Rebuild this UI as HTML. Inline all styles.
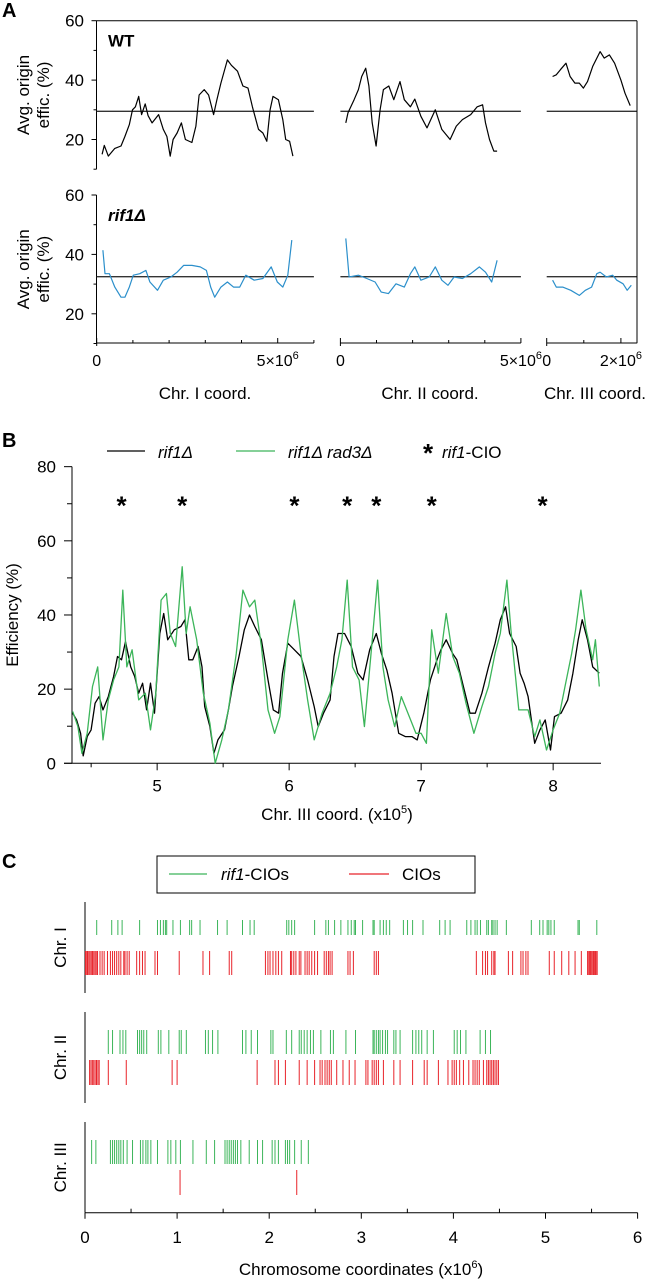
<!DOCTYPE html>
<html><head><meta charset="utf-8"><style>
html,body{margin:0;padding:0;background:#fff;}
svg{display:block;font-family:"Liberation Sans",sans-serif;}
</style></head><body>
<svg id="fig" width="653" height="1280" viewBox="0 0 653 1280" xmlns="http://www.w3.org/2000/svg">
<g id="A"></g>
<g id="B"></g>
<g id="C"></g>
</svg>
<script>
// ---------- Panel A data (x in Mb, y in %) ----------
const wt1X=[.15,.21,.32,.5,.67,.78,.9,.99,1.07,1.16,1.24,1.34,1.42,1.53,1.71,1.84,1.94,2.03,2.11,2.22,2.34,2.45,2.63,2.74,2.83,2.97,3.09,3.23,3.32,3.43,3.61,3.72,3.89,4.04,4.18,4.3,4.47,4.59,4.7,4.79,4.87,5.02,5.14,5.22,5.33,5.42];
const wt1Y=[15,18,14.4,17,17.8,21,25,30,31,34.5,28.4,32,28,25.6,28.4,23.4,21,14.4,20,22.2,25.6,20,19,24.5,35,36.8,35,28.4,33.4,39,46.8,45,43,38,37.3,31,23.4,22.2,19.4,30,34.5,33.4,26.7,20,19.4,14.4];
const wt2X=[.15,.21,.38,.5,.59,.7,.79,.88,.99,1.1,1.19,1.34,1.48,1.65,1.77,1.94,2.06,2.23,2.4,2.63,2.81,3.04,3.21,3.38,3.61,3.79,3.94,4.02,4.13,4.25,4.34];
const wt2Y=[25.6,29,33.4,36.8,41.2,44,38,25.6,17.8,30,36.8,38,33.4,39.5,33.4,31,33.6,27.8,23.9,30,23.4,20,24.5,26.7,28.4,31,31.7,25.6,20,16.1,16.1];
const wt3X=[.16,.26,.37,.52,.63,.76,.88,.99,1.1,1.24,1.44,1.55,1.69,1.83,2.0,2.11,2.25];
const wt3Y=[41.2,41.8,43.5,45.7,41.2,39,39,37.3,39.5,44.6,49.6,47.4,48.5,45.7,40,35.6,31.4];
const rf1X=[.17,.23,.35,.5,.67,.78,.9,1.01,1.19,1.36,1.47,1.68,1.84,2.05,2.22,2.4,2.63,2.86,3.03,3.15,3.26,3.43,3.61,3.78,3.95,4.12,4.35,4.59,4.82,4.99,5.14,5.28,5.39];
const rf1Y=[41.4,33.5,33.5,29,25.6,25.6,29,33,33.5,34.6,30.7,27.9,31.3,32.4,34,36.3,36.3,35.8,34.6,29,25.6,29,30.7,29,29,33,31.3,31.9,35.8,30.7,29,33,44.8];
const rf2X=[.15,.24,.5,.73,.96,1.13,1.33,1.54,1.77,1.94,2.06,2.23,2.46,2.63,2.81,2.98,3.15,3.38,3.61,3.85,4.02,4.19,4.34];
const rf2Y=[45.4,32.4,33,31.9,30.7,27.3,26.8,30.1,29,33.5,35.8,31.3,32.4,35.8,31.3,29.6,32.4,31.9,33.5,35.8,34,30.7,38];
const rf3X=[.16,.26,.43,.65,.88,1.04,1.21,1.35,1.44,1.61,1.78,1.89,2.06,2.17,2.28];
const rf3Y=[31.3,29,29,27.9,26.2,27.9,29,33.5,34,32.4,33,31.3,30.1,27.9,29.6];
const wtMean=[29.5], rifMean=[32.5];
const aYTicks=[20,40,60];

// ---------- Panel B data (x in 1e5, y in %) ----------
const bBlackX=[4.36,4.39,4.42,4.44,4.47,4.50,4.53,4.56,4.59,4.63,4.67,4.70,4.73,4.76,4.80,4.83,4.86,4.89,4.92,4.95,4.98,5.02,5.05,5.08,5.13,5.18,5.21,5.24,5.27,5.31,5.34,5.36,5.40,5.43,5.46,5.51,5.54,5.57,5.62,5.66,5.70,5.74,5.79,5.84,5.88,5.92,5.95,5.99,6.04,6.09,6.14,6.19,6.22,6.26,6.31,6.34,6.37,6.42,6.47,6.52,6.56,6.61,6.66,6.70,6.74,6.78,6.83,6.88,6.93,6.97,7.02,7.07,7.12,7.15,7.19,7.24,7.27,7.32,7.37,7.41,7.46,7.51,7.56,7.60,7.64,7.67,7.72,7.75,7.78,7.81,7.86,7.90,7.94,7.98,8.01,8.06,8.11,8.15,8.19,8.22,8.26,8.30,8.35];
const bBlackY=[13.5,11.7,8.1,2,7.2,9,16.2,18,14.4,18,23.4,28.8,27.9,32.8,26,23.4,18.9,21.6,14.4,21.6,13.5,35,40.4,33.3,36,36.9,38.7,27.9,27.9,31.5,26,15.3,9.9,2.7,6.3,9,14.4,20.7,28.8,36,40,36.9,33.3,22.5,14.4,13.5,24.3,32.4,30.6,28.8,22.5,15.3,9.9,13.5,17.1,28.8,35,35,31.5,24.3,22.5,30.6,35,29.5,25.2,18.9,8.1,7.2,7.2,6.3,13.5,22.5,27.9,30.6,33.3,29.5,27.9,20.7,13.5,13.5,18.9,26,32.4,38.7,42.2,35,31.5,24.3,21.6,18,5.4,9,11.7,3.6,12.6,13.5,17.1,24.3,33.3,38.7,33.3,26,24.3];
const bGreenX=[4.36,4.40,4.43,4.47,4.51,4.55,4.59,4.63,4.67,4.71,4.74,4.77,4.81,4.86,4.91,4.95,4.99,5.03,5.07,5.10,5.14,5.19,5.22,5.25,5.30,5.35,5.40,5.44,5.49,5.54,5.60,5.65,5.70,5.74,5.79,5.84,5.89,5.93,5.99,6.04,6.09,6.14,6.19,6.25,6.31,6.36,6.40,6.44,6.48,6.53,6.57,6.62,6.67,6.71,6.75,6.80,6.85,6.91,6.96,7.00,7.04,7.08,7.13,7.19,7.24,7.29,7.34,7.40,7.46,7.51,7.56,7.60,7.65,7.68,7.74,7.81,7.86,7.90,7.95,8.00,8.05,8.09,8.14,8.17,8.21,8.25,8.30,8.32,8.35];
const bGreenY=[14,9.9,2.7,8.1,20.7,26,6.3,17.1,22.5,26,46.7,26,30.6,17.1,18.9,9,18.9,44,45.8,35,31.5,53,35,42.2,33.3,18.9,10.8,0,6.3,14.4,29.7,46.7,42.2,44,31.5,14.4,8.1,12.6,33.3,44,29.5,17.1,6.3,13.5,18.9,26,33.3,49.4,26,22.5,9.9,29.5,49.4,26,17.1,9.9,18,12.6,8.1,8.1,5.4,36,24.3,40.4,28.8,24.3,16.2,8.1,15.3,20.7,29.7,35,49.4,36,14.4,14.4,7.2,11.7,3.6,9,13.5,20.7,29.5,36,46.7,36,27.9,33.3,20.7];
const cioX=[4.73,5.19,6.04,6.44,6.66,7.08,7.92];
const bYTicks=[0,20,40,60,80];
const bXTicks=[5,6,7,8];

// ---------- Panel C data (x in Mb) ----------
const c1G=[.127,.29,.357,.403,.593,.787,.819,.851,.873,.887,.955,1.036,1.136,1.158,1.249,1.439,1.543,1.71,1.792,1.837,2.19,2.213,2.244,2.276,2.493,2.615,2.643,2.71,2.778,2.855,2.891,2.923,2.937,3.014,3.127,3.14,3.204,3.24,3.271,3.308,3.457,3.502,3.557,3.67,3.851,3.91,3.964,4.145,4.19,4.235,4.258,4.294,4.362,4.38,4.416,4.43,4.452,4.475,4.575,4.846,4.937,4.973,5.018,5.036,5.059,5.095,5.353,5.367,5.557];
const c1R=[.005,.014,.027,.041,.054,.068,.081,.095,.109,.122,.136,.163,.186,.208,.244,.276,.299,.321,.344,.367,.389,.421,.434,.457,.48,.561,.593,.624,.652,.76,.787,1.023,1.281,1.353,1.566,1.593,1.959,1.986,2.009,2.041,2.072,2.1,2.136,2.231,2.244,2.267,2.29,2.326,2.344,2.389,2.412,2.434,2.462,2.493,2.525,2.597,2.62,2.643,2.661,2.683,2.855,2.878,2.914,3.14,3.163,3.186,4.249,4.317,4.348,4.371,4.416,4.439,4.452,4.597,4.643,4.733,4.756,4.787,4.81,5.041,5.095,5.176,5.253,5.321,5.389,5.457,5.47,5.48,5.49,5.502,5.515,5.525,5.537,5.548,5.561];
const c2G=[.253,.299,.38,.412,.443,.57,.593,.615,.638,.67,.796,.824,.91,1.023,1.045,1.1,1.308,1.339,1.385,1.443,1.71,1.747,1.805,1.873,2.018,2.041,2.186,2.244,2.326,2.348,2.38,2.412,2.448,2.48,2.561,2.665,2.697,2.833,2.937,3.127,3.14,3.163,3.186,3.204,3.231,3.262,3.285,3.353,3.376,3.421,3.557,3.593,3.624,3.656,3.715,3.783,4.009,4.041,4.077,4.136,4.29,4.348,4.403];
const c2R=[.05,.065,.08,.095,.11,.125,.14,.154,.253,.448,.946,1.0,1.869,2.063,2.1,2.176,2.326,2.412,2.493,2.552,2.575,2.606,2.629,2.652,2.674,2.733,2.801,2.869,2.932,3.05,3.072,3.118,3.14,3.163,3.186,3.24,3.353,3.421,3.557,3.683,3.715,3.837,3.941,3.986,4.009,4.032,4.068,4.109,4.167,4.213,4.235,4.258,4.281,4.326,4.362,4.38,4.398,4.416,4.434,4.452,4.471,4.489];
const c3G=[.072,.118,.276,.299,.321,.344,.367,.389,.416,.457,.516,.602,.629,.661,.683,.715,.787,.9,.932,.986,1.036,1.172,1.317,1.407,1.52,1.543,1.566,1.588,1.611,1.633,1.656,1.692,1.783,1.873,1.928,2.032,2.063,2.1,2.176,2.199,2.222,2.276,2.348,2.425];
const c3R=[1.032,2.299];
const cXTicks=[0,1,2,3,4,5,6];
const chrNames=["Chr. I","Chr. II","Chr. III"];

const NS="http://www.w3.org/2000/svg";
function mk(parent,tag,attrs,text){const e=document.createElementNS(NS,tag);for(const k in attrs)e.setAttribute(k,attrs[k]);if(text!==undefined)e.textContent=text;parent.appendChild(e);return e;}
function poly(parent,xs,ys,fx,fy,color,w,name){
  let d='';for(let i=0;i<xs.length;i++){d+=(i?'L':'M')+fx(xs[i]).toFixed(1)+' '+fy(ys[i]).toFixed(1);}
  const p=mk(parent,'path',{d:d,fill:'none',stroke:color,'stroke-width':w,'stroke-linejoin':'round'});
  
  
  return p;
}

// ===== Panel A =====
(function(){
const g=document.getElementById('A');
const t=mk(g,'text',{x:2,y:17,'font-size':20,'font-weight':'bold'},'A');


const L=96.5,R=637;
const segs=[{x0:96.7,ppm:36.2,end:6,ticks:[0,1,2,3,4,5,6],lab:[[0,'0'],[5,'5×10']]},{x0:340.4,ppm:36.1,end:5,ticks:[0,1,2,3,4,5],lab:[[0,'0'],[5,'5×10']]},{x0:546.7,ppm:37.1,end:2.44,ticks:[0,1,2],lab:[[0,'0'],[2,'2×10']]}];
const panels=[{top:20.7,title:'WT',color:'#000',mean:wtMean[0],X:[wt1X,wt2X,wt3X],Y:[wt1Y,wt2Y,wt3Y],name:'wt'},{top:195,title:'rif1Δ',color:'#2b8fcb',mean:rifMean[0],X:[rf1X,rf2X,rf3X],Y:[rf1Y,rf2Y,rf3Y],name:'rif1'}];
panels.forEach((P,pi)=>{
  const fy=v=>P.top+(60-v)*2.97;
  const ax=mk(g,'line',{x1:L,y1:fy(60),x2:L,y2:fy(10),stroke:'#000','stroke-width':1});
  
  
  [10,20,30,40,50,60].forEach(v=>{mk(g,'line',{x1:L-(v%20===0?5:3),y1:fy(v),x2:L,y2:fy(v),stroke:'#000','stroke-width':1});});
  aYTicks.forEach(v=>{const tt=mk(g,'text',{x:84,y:fy(v)+6,'font-size':17,'text-anchor':'end'},String(v));
    
    });
  const lab=mk(g,'text',{transform:`translate(29,${fy(35)}) rotate(-90)`,'font-size':17,'text-anchor':'middle'});
  
  
  mk(lab,'tspan',{x:0,dy:0},'Avg. origin');
  mk(lab,'tspan',{x:0,dy:20},'effic. (%)');
  const tl=mk(g,'text',{x:108,y:P.top+26,'font-size':17,'font-weight':'bold','font-style':pi?'italic':'normal'},P.title);
  
  
  segs.forEach((S,si)=>{
    const fx=m=>S.x0+m*S.ppm;
    const ml=mk(g,'line',{x1:fx(0),y1:fy(P.mean),x2:fx(S.end),y2:fy(P.mean),stroke:'#333','stroke-width':1.4});
    
    
    poly(g,P.X[si],P.Y[si],fx,fy,P.color,1.2,P.name+'-trace-chr'+(si+1));
  });
});
mk(g,'line',{x1:L,y1:20.7,x2:R,y2:20.7,stroke:'#000','stroke-width':1});
mk(g,'line',{x1:R,y1:20.7,x2:R,y2:343,stroke:'#000','stroke-width':1});
const by=343;
const chrTitles=['Chr. I coord.','Chr. II coord.','Chr. III coord.'];
segs.forEach((S,si)=>{
  const fx=m=>S.x0+m*S.ppm;
  const a=mk(g,'line',{x1:fx(0),y1:by,x2:fx(S.end),y2:by,stroke:'#000','stroke-width':1});
  
  
  S.ticks.forEach(m=>mk(g,'line',{x1:fx(m),y1:by-(S.lab.some(l=>l[0]===m)?5:3),x2:fx(m),y2:by+(m===0?3:0),stroke:'#000','stroke-width':1}));
  S.lab.forEach(l=>{
    const tt=mk(g,'text',{x:fx(l[0]),y:by+23,'font-size':16,'text-anchor':'middle'});
    
    
    if(l[0]===0){tt.textContent='0';}
    else{tt.textContent=l[1];mk(tt,'tspan',{'font-size':11,dy:-7},'6');}
  });
  const ct=mk(g,'text',{x:[205,430,595][si],y:399,'font-size':17,'text-anchor':'middle'},chrTitles[si]);
  
  
});
})();

// ===== Panel B =====
(function(){
const g=document.getElementById('B');
const t=mk(g,'text',{x:2,y:447,'font-size':20,'font-weight':'bold'},'B');


const fx=v=>72+(v-4.355)*132, fy=v=>763.3-v*3.708;
const ya=mk(g,'line',{x1:72,y1:fy(80),x2:72,y2:fy(0),stroke:'#000','stroke-width':1});


const xa=mk(g,'line',{x1:64,y1:fy(0),x2:601,y2:fy(0),stroke:'#000','stroke-width':1});


for(let v=0;v<=80;v+=10)mk(g,'line',{x1:v%20===0?64:67,y1:fy(v),x2:72,y2:fy(v),stroke:'#000','stroke-width':1});
bYTicks.forEach(v=>{const tt=mk(g,'text',{x:56,y:fy(v)+6,'font-size':17,'text-anchor':'end'},String(v));
  
  });
for(let v=4.5;v<=8.3;v+=0.5)mk(g,'line',{x1:fx(v),y1:fy(0),x2:fx(v),y2:fy(0)+(Math.abs(v-Math.round(v))<0.01?7:4),stroke:'#000','stroke-width':1});
bXTicks.forEach(v=>{const tt=mk(g,'text',{x:fx(v),y:fy(0)+28,'font-size':17,'text-anchor':'middle'},String(v));
  
  });
const yt=mk(g,'text',{transform:`translate(18,${fy(40)}) rotate(-90)`,'font-size':17,'text-anchor':'middle'},'Efficiency (%)');


const xt=mk(g,'text',{x:337,y:820,'font-size':17,'text-anchor':'middle'},'Chr. III coord. (x10');


mk(xt,'tspan',{'font-size':11,dy:-7},'5');
mk(xt,'tspan',{dy:7},')');
poly(g,bBlackX,bBlackY,fx,fy,'#000',1.3,'rif1-efficiency-line');
poly(g,bGreenX,bGreenY,fx,fy,'#3cb55a',1.3,'rif1-rad3-efficiency-line');
cioX.forEach(v=>{const s=mk(g,'text',{x:fx(v),y:fy(70)+11,'font-size':26,'font-weight':'bold','text-anchor':'middle'},'*');
  
  });
const lg=mk(g,'g',{});


mk(lg,'line',{x1:107,y1:451,x2:145,y2:451,stroke:'#000','stroke-width':1.3});
mk(lg,'text',{x:158,y:458,'font-size':17,'font-style':'italic'},'rif1Δ');
mk(lg,'line',{x1:236,y1:451,x2:275,y2:451,stroke:'#3cb55a','stroke-width':1.3});
mk(lg,'text',{x:288,y:458,'font-size':17,'font-style':'italic'},'rif1Δ rad3Δ');
mk(lg,'text',{x:428,y:462,'font-size':26,'font-weight':'bold','text-anchor':'middle'},'*');
const lt=mk(lg,'text',{x:442,y:458,'font-size':17});
mk(lt,'tspan',{'font-style':'italic'},'rif1');
mk(lt,'tspan',{},'-CIO');
})();

// ===== Panel C =====
(function(){
const g=document.getElementById('C');
const t=mk(g,'text',{x:2,y:868,'font-size':20,'font-weight':'bold'},'C');


const fx=v=>85+v*92.1;
const lg=mk(g,'g',{});


mk(lg,'rect',{x:157,y:856,width:318,height:37,fill:'#fff',stroke:'#000','stroke-width':1});
mk(lg,'line',{x1:169,y1:874,x2:207,y2:874,stroke:'#3cb55a','stroke-width':1.3});
const t1=mk(lg,'text',{x:221,y:880,'font-size':17});
mk(t1,'tspan',{'font-style':'italic'},'rif1');mk(t1,'tspan',{},'-CIOs');
mk(lg,'line',{x1:349,y1:874,x2:389,y2:874,stroke:'#e8232a','stroke-width':1.3});
mk(lg,'text',{x:402,y:880,'font-size':17},'CIOs');
const rows=[{top:902,bot:993,g:[920,935],r:[951,975],G:c1G,R:c1R},{top:1012,bot:1103,g:[1030,1054],r:[1060,1085],G:c2G,R:c2R},{top:1122,bot:1212.7,g:[1140,1164],r:[1170,1195],G:c3G,R:c3R}];
rows.forEach((r,i)=>{
  const a=mk(g,'line',{x1:85,y1:r.top,x2:85,y2:r.bot,stroke:'#000','stroke-width':1});
  
  
  const lb=mk(g,'text',{transform:`translate(66,${(r.top+r.bot)/2}) rotate(-90)`,'font-size':17,'text-anchor':'middle'},chrNames[i]);
  
  
  r.G.forEach(v=>{const l=mk(g,'line',{x1:fx(v),y1:r.g[0],x2:fx(v),y2:r.g[1],stroke:'#3cb55a','stroke-width':1});
    
    });
  r.R.forEach(v=>{const l=mk(g,'line',{x1:fx(v),y1:r.r[0],x2:fx(v),y2:r.r[1],stroke:'#e8232a','stroke-width':1});
    
    });
});
const xa=mk(g,'line',{x1:85,y1:1212.7,x2:637.6,y2:1212.7,stroke:'#000','stroke-width':1});


for(let v=0;v<=6;v+=0.5)mk(g,'line',{x1:fx(v),y1:1212.7,x2:fx(v),y2:1212.7+(v%1===0?6:-4),stroke:'#000','stroke-width':1});
cXTicks.forEach(v=>{const tt=mk(g,'text',{x:fx(v),y:1243,'font-size':17,'text-anchor':'middle'},String(v));
  
  });
const xt=mk(g,'text',{x:361,y:1275,'font-size':17,'text-anchor':'middle'},'Chromosome coordinates (x10');


mk(xt,'tspan',{'font-size':11,dy:-7},'6');
mk(xt,'tspan',{dy:7},')');
})();
</script>
</body></html>
